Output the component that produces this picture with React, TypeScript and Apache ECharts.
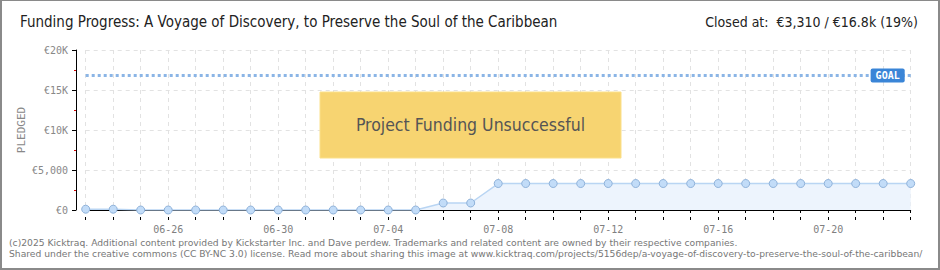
import React, { useEffect, useRef } from 'react';
import * as echarts from 'echarts';

const dates = [
  '06-23', '06-24', '06-25', '06-26', '06-27', '06-28', '06-29', '06-30',
  '07-01', '07-02', '07-03', '07-04', '07-05', '07-06', '07-07', '07-08',
  '07-09', '07-10', '07-11', '07-12', '07-13', '07-14', '07-15', '07-16',
  '07-17', '07-18', '07-19', '07-20', '07-21', '07-22', '07-23',
];
const pledged = [
  100, 100, 0, 0, 0, 0, 0, 0,
  0, 0, 0, 0, 0, 875, 875, 3310,
  3310, 3310, 3310, 3310, 3310, 3310, 3310, 3310,
  3310, 3310, 3310, 3310, 3310, 3310, 3310,
];
const goal = 16800;
const yTickValues = [0, 5000, 10000, 15000, 20000];
const yTickLabels = ['€0', '€5,000', '€10K', '€15K', '€20K'];
const yAxisName = 'PLEDGED';
const labeledDates = ['06-26', '06-30', '07-04', '07-08', '07-12', '07-16', '07-20'];
const titleText = 'Funding Progress: A Voyage of Discovery, to Preserve the Soul of the Caribbean';
const statusText = 'Closed at:  €3,310 / €16.8k (19%)';
const bannerText = 'Project Funding Unsuccessful';
const footerLine1 =
  '(c)2025 Kicktraq. Additional content provided by Kickstarter Inc. and Dave perdew. Trademarks and related content are owned by their respective companies.';
const footerLine2 =
  'Shared under the creative commons (CC BY-NC 3.0) license. Read more about sharing this image at www.kicktraq.com/projects/5156dep/a-voyage-of-discovery-to-preserve-the-soul-of-the-caribbean/';

const MONO = '"DejaVu Sans Mono", monospace';
const NARROW = '"DejaVu Sans Condensed", "DejaVu Sans", sans-serif';

export default function App() {
  const ref = useRef<HTMLDivElement>(null);

  useEffect(() => {
    const chart = echarts.init(ref.current!, null, { renderer: 'svg' });
    const showLabel = (idx: number) => labeledDates.includes(dates[idx]);
    chart.setOption({
      animation: false,
      backgroundColor: '#ffffff',
      grid: { left: 85.7, right: 29.3, top: 50, height: 160, containLabel: false },
      xAxis: [
        {
          type: 'category',
          data: dates,
          boundaryGap: false,
          offset: 10,
          axisLine: { show: true, lineStyle: { color: '#000', width: 1 } },
          axisTick: { show: true, interval: 0, length: 3, lineStyle: { color: '#000' } },
          axisLabel: {
            interval: (idx: number) => showLabel(idx),
            margin: 4,
            color: '#808080',
            fontFamily: MONO,
            fontSize: 10,
          },
          splitLine: {
            show: true,
            interval: 0,
            lineStyle: { color: '#e2e2e2', type: [4, 4], width: 1 },
          },
        },
        {
          type: 'category',
          data: dates,
          boundaryGap: false,
          offset: 10,
          position: 'bottom',
          axisLine: { show: false },
          axisTick: { show: true, inside: true, interval: 0, length: 3, lineStyle: { color: '#000' } },
          axisLabel: { show: false },
          splitLine: { show: false },
        },
      ],
      yAxis: {
        type: 'value',
        min: 0,
        max: 20000,
        interval: 5000,
        offset: 9.7,
        axisLine: { show: true, lineStyle: { color: '#000', width: 1 } },
        axisTick: { show: true, length: 4, lineStyle: { color: '#000' } },
        minorTick: { show: true, splitNumber: 2, length: 2, lineStyle: { color: '#d40000' } },
        axisLabel: {
          margin: 8,
          color: '#888',
          fontFamily: MONO,
          fontSize: 10,
          formatter: (v: number) => {
            const i = yTickValues.indexOf(v);
            return i >= 0 ? yTickLabels[i] : '';
          },
        },
        splitLine: { show: true, lineStyle: { color: '#e2e2e2', type: [4, 4], width: 1 } },
      },
      series: [
        {
          type: 'line',
          data: pledged,
          xAxisIndex: 0,
          symbol: 'circle',
          symbolSize: 8,
          showAllSymbol: true,
          lineStyle: { color: '#b9d5f3', width: 1.5 },
          itemStyle: { color: '#c2dcf8', borderColor: '#8fb2da', borderWidth: 1 },
          areaStyle: { color: '#edf4fd', opacity: 1 },
          z: 3,
          markLine: {
            silent: true,
            symbol: 'none',
            data: [{ yAxis: goal }],
            lineStyle: { color: '#8bb5e6', width: 3, type: [3, 3] },
            label: {
              show: true,
              position: 'insideEnd',
              formatter: 'GOAL',
              distance: [6, 0],
              verticalAlign: 'middle',
              backgroundColor: '#3a85d7',
              color: '#fff',
              padding: [2, 5, 2, 5],
              borderRadius: 2,
              fontFamily: MONO,
              fontSize: 10,
              fontWeight: 'bold',
            },
          },
        },
      ],
      graphic: [
        {
          type: 'text',
          x: 21,
          y: 130,
          rotation: Math.PI / 2,
          style: {
            text: yAxisName,
            font: `11px ${MONO}`,
            fill: '#888',
            align: 'center',
            verticalAlign: 'middle',
          },
        },
        {
          type: 'text',
          left: 20,
          top: 14,
          style: { text: titleText, font: `15px ${NARROW}`, fill: '#222' },
        },
        {
          type: 'text',
          right: 22,
          top: 15,
          style: { text: statusText, font: `14px ${NARROW}`, fill: '#222' },
        },
        {
          type: 'rect',
          shape: { x: 320, y: 92, width: 301, height: 66 },
          style: { fill: '#f7d471', stroke: '#fbe08a', lineWidth: 1 },
          z: 10,
        },
        {
          type: 'text',
          x: 470.5,
          y: 125,
          z: 11,
          style: {
            text: bannerText,
            font: `17.5px ${NARROW}`,
            fill: '#555',
            align: 'center',
            verticalAlign: 'middle',
            textShadowColor: 'rgba(255,255,255,0.8)',
            textShadowOffsetX: 1,
            textShadowOffsetY: 1,
            textShadowBlur: 0,
          },
        },
        {
          type: 'text',
          left: 9,
          top: 238,
          style: { text: footerLine1, font: '9.2px "DejaVu Sans", sans-serif', fill: '#777' },
        },
        {
          type: 'text',
          left: 9,
          top: 249,
          style: { text: footerLine2, font: '9.2px "DejaVu Sans", sans-serif', fill: '#777' },
        },
      ],
    });
    return () => chart.dispose();
  }, []);

  return (
    <div style={{ position: 'absolute', left: 0, top: 0, width: 940, height: 270, background: '#fff' }}>
      <div ref={ref} style={{ width: 940, height: 270 }} />
      <div
        style={{
          position: 'absolute',
          left: 0,
          top: 0,
          width: 940,
          height: 270,
          boxSizing: 'border-box',
          borderStyle: 'solid',
          borderColor: '#8a8a8a',
          borderWidth: '1px 2px 2px 2px',
          pointerEvents: 'none',
        }}
      />
    </div>
  );
}
